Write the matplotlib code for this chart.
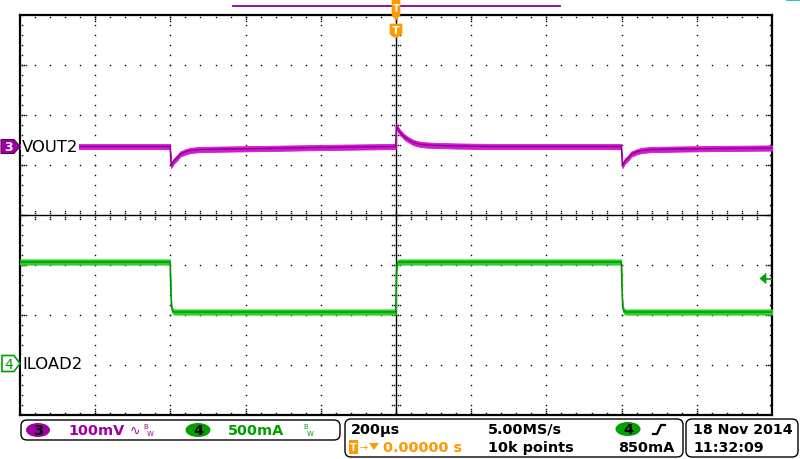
import numpy as np
import matplotlib
matplotlib.use("Agg")
import matplotlib.pyplot as plt
from matplotlib.patches import FancyBboxPatch, Polygon, Ellipse, Rectangle

# ---------------- data ----------------
# Time base: 200 us/div, 10 divisions, trigger at centre (0 us)
time_per_div_us = 200
n_hdiv = 10
n_vdiv = 8

# CH3 : VOUT2 (AC coupled, 100 mV/div), values in mV relative to marker
t_vout_us = [-1000, -601, -598, -596, -592, -588, -580, -574, -561, -548, -521, -441,
             -350, -200, -1, 1, 4, 10, 16, 24, 34, 46, 60, 80, 110, 160, 250,
             599, 602, 604, 608, 612, 620, 626, 639, 652, 679, 759, 850, 1000]
vout_mV = [0, 0, -38, -36, -30, -27, -21, -15, -11, -8, -6, -5,
           -4, -2, 0, 40, 36, 29, 24, 18, 13, 8, 5, 3, 2, 1, 0,
           0, -38, -36, -30, -27, -21, -15, -11, -8, -6, -5, -4, -3]
ch3_scale_mV = 100
ch3_offset_div = 1.37

# CH4 : ILOAD2 (500 mA/div), values in mA
t_iload_us = [-1000, -601, -599, -597, -594, -590, -1, 1, 3, 6, 599, 601, 603, 606, 610, 1000]
iload_mA = [1015, 1015, 720, 560, 525, 515, 515, 900, 1000, 1015, 1015, 720, 560, 525, 515, 515]
ch4_scale_mA = 500
ch4_offset_div = -2.97
trigger_level_mA = 850

# ---------------- colours ----------------
MAG_BAND = "#D21AD2"
MAG_CORE = "#8E008E"
MAG_TXT = "#A000A0"
GRN_BAND = "#28D228"
GRN_CORE = "#0A8A0A"
GRN_TXT = "#00A000"
ORANGE = "#FF9900"

fig = plt.figure(figsize=(8, 4.6), dpi=100)
fig.patch.set_facecolor("white")

# ---------------- graticule axes ----------------
ax = fig.add_axes([20 / 800, 44 / 460, 752 / 800, 400 / 460])
xmax = time_per_div_us * n_hdiv / 2
ymax = n_vdiv / 2
ax.set_xlim(-xmax, xmax)
ax.set_ylim(-ymax, ymax)
ax.set_xticks([])
ax.set_yticks([])
for s in ax.spines.values():
    s.set_linewidth(1.6)
    s.set_color("black")

px_x = 2 * xmax / 752.0   # us per pixel
px_y = 2 * ymax / 400.0   # div per pixel

dot_kw = dict(ls="none", marker="s", ms=1.0, mew=0, color="black", zorder=1)
minor_x = np.arange(-xmax, xmax + 1e-6, time_per_div_us / 5)
minor_y = np.arange(-ymax, ymax + 1e-6, 0.2)
major_x = np.arange(-xmax + time_per_div_us, xmax - 1e-6, time_per_div_us)
major_y = np.arange(-ymax + 1, ymax - 1e-6, 1)

# dotted vertical grid lines
for gx in major_x:
    if abs(gx) < 1e-6:
        continue
    ax.plot(np.full_like(minor_y, gx), minor_y, **dot_kw)
# dotted horizontal grid lines
for gy in major_y:
    if abs(gy) < 1e-6:
        continue
    ax.plot(minor_x, np.full_like(minor_x, gy), **dot_kw)

# centre cross
ax.axhline(0, color="black", lw=1.0, zorder=1)
ax.axvline(0, color="black", lw=1.0, zorder=1)
for off in (-4, -2, 2, 4):
    ax.plot(minor_x, np.full_like(minor_x, off * px_y), **dot_kw)
    ax.plot(np.full_like(minor_y, off * px_x), minor_y, **dot_kw)

# border ticks
for off in (2,):
    ax.plot(minor_x, np.full_like(minor_x, ymax - off * px_y), **dot_kw)
    ax.plot(minor_x, np.full_like(minor_x, -ymax + off * px_y), **dot_kw)
    ax.plot(np.full_like(minor_y, -xmax + off * px_x), minor_y, **dot_kw)
    ax.plot(np.full_like(minor_y, xmax - off * px_x), minor_y, **dot_kw)
for off in (2, 4, 6):
    ax.plot(major_x, np.full_like(major_x, ymax - off * px_y), **dot_kw)
    ax.plot(major_x, np.full_like(major_x, -ymax + off * px_y), **dot_kw)
    ax.plot(np.full_like(major_y, -xmax + off * px_x), major_y, **dot_kw)
    ax.plot(np.full_like(major_y, xmax - off * px_x), major_y, **dot_kw)

# ---------------- traces ----------------
v_div = ch3_offset_div + np.array(vout_mV) / ch3_scale_mV
i_div = ch4_offset_div + np.array(iload_mA) / ch4_scale_mA
band = 2.6 * px_y   # half-height of the noise band drawn around each trace

ax.fill_between(t_vout_us, v_div - band, v_div + band, color=MAG_BAND, lw=0.6,
                ec=MAG_BAND, zorder=3)
ax.plot(t_vout_us, v_div, color=MAG_CORE, lw=1.0, zorder=4)
ax.fill_between(t_iload_us, i_div - band, i_div + band, color=GRN_BAND, lw=0.6,
                ec=GRN_BAND, zorder=3)
ax.plot(t_iload_us, i_div, color=GRN_CORE, lw=1.0, zorder=4)

# trace labels
ax.text(-xmax + 2 * px_x, ch3_offset_div, "VOUT2", fontsize=11.8, color="black",
        va="center", ha="left", zorder=6,
        bbox=dict(boxstyle="square,pad=0.05", fc="white", ec="none"))
ax.text(-xmax + 2 * px_x, ch4_offset_div, "ILOAD2", fontsize=11.8, color="black",
        va="center", ha="left", zorder=6,
        bbox=dict(boxstyle="square,pad=0.05", fc="white", ec="none"))

# trigger level arrow (right side)
trig_div = ch4_offset_div + trigger_level_mA / ch4_scale_mA

# ---------------- overlay in pixel coordinates ----------------
ov = fig.add_axes([0, 0, 1, 1], facecolor="none")
ov.set_xlim(0, 800)
ov.set_ylim(460, 0)
ov.axis("off")

trig_y = 216 - trig_div * 50
ov.add_patch(Polygon([(760, trig_y), (766, trig_y - 5), (766, trig_y + 5)], closed=True,
                     fc=GRN_TXT, ec=GRN_TXT, lw=0.5))
ov.plot([765, 771], [trig_y, trig_y], color=GRN_TXT, lw=1.2)

# channel markers on the left
y3 = 216 - ch3_offset_div * 50
ov.add_patch(Polygon([(1, y3 - 7), (14, y3 - 7), (20, y3), (14, y3 + 7), (1, y3 + 7)],
                     closed=True, fc=MAG_TXT, ec="#5a005a", lw=0.8))
ov.text(8.5, y3 + 0.5, "3", color="white", fontsize=9, fontweight="bold", ha="center", va="center")
y4 = 216 - ch4_offset_div * 50
ov.add_patch(Polygon([(2, y4 - 8), (14, y4 - 8), (20, y4), (14, y4 + 8), (2, y4 + 8)],
                     closed=True, fc="white", ec=GRN_TXT, lw=1.2))
ov.text(9, y4 + 0.5, "4", color=GRN_TXT, fontsize=10, ha="center", va="center")

# top record bar + trigger markers
ov.plot([233, 560], [7, 7], color="#8E008E", lw=1.3)
ov.plot([787, 800], [0.6, 0.6], color="#00B5C8", lw=1.2)
ov.add_patch(Polygon([(392, 0), (400, 0), (400, 16), (396, 21), (392, 16)], closed=True,
                     fc=ORANGE, ec=ORANGE, lw=0.5, zorder=5))
ov.text(396, 9, "T", color="white", fontsize=7, fontweight="bold", ha="center", va="center", zorder=6)
ov.add_patch(Polygon([(390, 25), (402, 25), (402, 35), (396, 39), (390, 35)], closed=True,
                     fc=ORANGE, ec=ORANGE, lw=0.5, zorder=5))
ov.text(396, 31, "T", color="white", fontsize=8, fontweight="bold", ha="center", va="center", zorder=6)

# ---------------- status bar ----------------
def rbox(x, y, w, h):
    ov.add_patch(FancyBboxPatch((x, y), w, h, boxstyle="round,pad=0,rounding_size=6",
                                fc="white", ec="black", lw=1.0))

rbox(21, 421, 319, 20)
rbox(345, 420, 338, 38)
rbox(686, 420, 112, 38)

fs = 10.4
bold = dict(fontsize=fs, fontweight="bold", va="center", ha="left")

# box 1
ov.add_patch(Ellipse((38, 431), 24, 14, fc=MAG_TXT, ec="none"))
ov.text(38, 431.5, "3", color="black", fontsize=fs, fontweight="bold", ha="center", va="center")
ov.text(68, 431.5, "100mV", color=MAG_TXT, **bold)
ov.text(130, 431, "\u223f", color=MAG_TXT, fontsize=9, ha="left", va="center")
ov.text(143, 427, "B", color=MAG_TXT, fontsize=5, ha="left", va="center")
ov.text(147, 434, "W", color=MAG_TXT, fontsize=5, ha="left", va="center")
ov.add_patch(Ellipse((198, 431), 25, 14, fc=GRN_TXT, ec="none"))
ov.text(198, 431.5, "4", color="black", fontsize=fs, fontweight="bold", ha="center", va="center")
ov.text(228, 431.5, "500mA", color=GRN_TXT, **bold)
ov.text(303, 427, "B", color=GRN_TXT, fontsize=5, ha="left", va="center")
ov.text(307, 434, "W", color=GRN_TXT, fontsize=5, ha="left", va="center")

# box 2
ov.text(351, 430, "200\u00b5s", color="black", **bold)
ov.text(488, 430, "5.00MS/s", color="black", **bold)
ov.add_patch(Ellipse((628, 430), 25, 14, fc=GRN_TXT, ec="none"))
ov.text(628, 430.5, "4", color="black", fontsize=fs, fontweight="bold", ha="center", va="center")
ov.plot([653, 657, 661, 665], [435, 435, 426, 426], color="black", lw=1.6)
ov.add_patch(Rectangle((349, 441), 9, 14, fc=ORANGE, ec="none"))
ov.text(353.5, 448, "T", color="white", fontsize=7, fontweight="bold", ha="center", va="center")
ov.text(359, 448, "\u2192", color=ORANGE, fontsize=7, ha="left", va="center")
ov.add_patch(Polygon([(369, 444), (379, 444), (374, 451)], closed=True, fc=ORANGE, ec="none"))
ov.text(383, 448.5, "0.00000 s", color=ORANGE, **bold)
ov.text(488, 448.5, "10k points", color="black", **bold)
ov.text(674, 448.5, "850mA", color="black", fontsize=fs, fontweight="bold", va="center", ha="right")

# box 3
ov.text(693, 430, "18 Nov 2014", color="black", fontsize=10.2, fontweight="bold",
        va="center", ha="left")
ov.text(693, 448.5, "11:32:09", color="black", fontsize=10.2, fontweight="bold",
        va="center", ha="left")

fig.savefig("out.png", dpi=100)
